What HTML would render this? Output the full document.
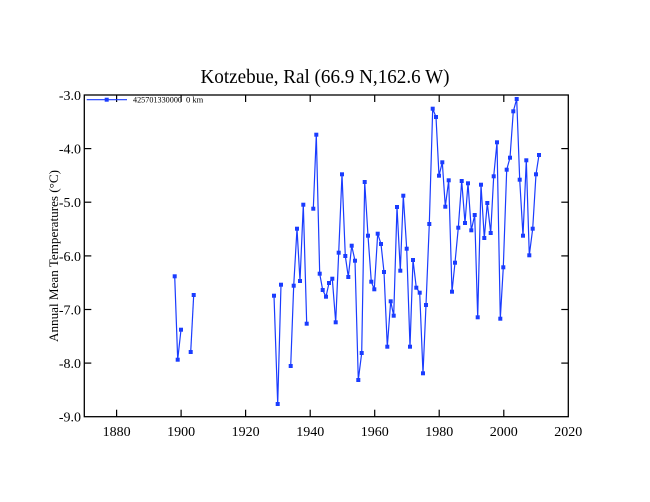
<!DOCTYPE html>
<html><head><meta charset="utf-8"><style>
html,body{margin:0;padding:0;background:#fff;}
svg{display:block;font-family:"Liberation Serif",serif;}
</style></head><body>
<svg width="650" height="502" viewBox="0 0 650 502" xmlns="http://www.w3.org/2000/svg">
<rect width="650" height="502" fill="#fff"/>
<text x="325" y="83" font-size="20" text-anchor="middle" textLength="249" lengthAdjust="spacingAndGlyphs">Kotzebue, Ral (66.9 N,162.6 W)</text>
<rect x="84.3" y="95" width="484" height="321.7" fill="none" stroke="#000" stroke-width="1.3"/>
<g stroke="#000" stroke-width="1.2">
<line x1="116.6" y1="416.7" x2="116.6" y2="409.7"/><line x1="181.1" y1="416.7" x2="181.1" y2="409.7"/><line x1="245.6" y1="416.7" x2="245.6" y2="409.7"/><line x1="310.2" y1="416.7" x2="310.2" y2="409.7"/><line x1="374.7" y1="416.7" x2="374.7" y2="409.7"/><line x1="439.2" y1="416.7" x2="439.2" y2="409.7"/><line x1="503.8" y1="416.7" x2="503.8" y2="409.7"/>
<line x1="116.6" y1="95" x2="116.6" y2="102"/><line x1="181.1" y1="95" x2="181.1" y2="102"/><line x1="245.6" y1="95" x2="245.6" y2="102"/><line x1="310.2" y1="95" x2="310.2" y2="102"/><line x1="374.7" y1="95" x2="374.7" y2="102"/><line x1="439.2" y1="95" x2="439.2" y2="102"/><line x1="503.8" y1="95" x2="503.8" y2="102"/>
<line x1="84.3" y1="148.6" x2="91.3" y2="148.6"/><line x1="84.3" y1="202.2" x2="91.3" y2="202.2"/><line x1="84.3" y1="255.9" x2="91.3" y2="255.9"/><line x1="84.3" y1="309.5" x2="91.3" y2="309.5"/><line x1="84.3" y1="363.1" x2="91.3" y2="363.1"/>
<line x1="568.3" y1="148.6" x2="561.3" y2="148.6"/><line x1="568.3" y1="202.2" x2="561.3" y2="202.2"/><line x1="568.3" y1="255.9" x2="561.3" y2="255.9"/><line x1="568.3" y1="309.5" x2="561.3" y2="309.5"/><line x1="568.3" y1="363.1" x2="561.3" y2="363.1"/>
</g>
<g font-size="14" text-anchor="end">
<text x="81" y="100">-3.0</text><text x="81" y="153.6">-4.0</text><text x="81" y="207.2">-5.0</text><text x="81" y="260.9">-6.0</text><text x="81" y="314.5">-7.0</text><text x="81" y="368.1">-8.0</text><text x="81" y="421.7">-9.0</text>
</g>
<g font-size="14" text-anchor="middle">
<text x="116.6" y="436">1880</text><text x="181.1" y="436">1900</text><text x="245.6" y="436">1920</text><text x="310.2" y="436">1940</text><text x="374.7" y="436">1960</text><text x="439.2" y="436">1980</text><text x="503.8" y="436">2000</text><text x="568.3" y="436">2020</text>
</g>
<text transform="translate(58,256) rotate(-90)" font-size="13" text-anchor="middle" textLength="172" lengthAdjust="spacingAndGlyphs">Annual Mean Temperatures (°C)</text>
<line x1="86.7" y1="99.7" x2="127" y2="99.7" stroke="#1a3cff" stroke-width="1.2"/>
<rect x="104.7" y="97.7" width="4" height="4" fill="#1a3cff"/>
<text x="133" y="102.5" font-size="8.5" textLength="49" lengthAdjust="spacingAndGlyphs">425701330000</text>
<text x="186" y="102.5" font-size="8.5">0 km</text>
<g fill="none" stroke="#1a3cff" stroke-width="1.2">
<polyline points="174.7,276.3 177.7,359.7 181,329.7"/>
<polyline points="190.7,352 193.7,295"/>
<polyline points="274,295.7 277.7,404 281,284.7"/>
<polyline points="290.7,366 293.7,285.7 297,228.7 300,281 303.3,204.7 306.7,323.7"/>
<polyline points="313.3,208.7 316.3,134.7 319.7,273.7 322.7,290 326,296.7 329,283 332.3,278.7 335.7,322.3 338.7,252.7 342,174.3 345.3,256 348.3,277 351.7,245.7 355,260.7 358.3,380 361.7,353 364.7,182 368,235.7 371.3,281.7 374.3,289.3 377.7,233.7 381,244 384,272 387.3,346.7 390.7,301.3 393.7,315.7 397,207 400.3,270.7 403.3,195.7 406.7,248.7 410,346.7 413,260 416.3,287.7 419.7,292.7 423,373.3 426,305 429.3,224 432.7,108.7 436,117 439,175.7 442.3,162.3 445.3,206.7 448.7,180.3 452,291.7 455,262.7 458.3,227.7 461.7,181 465,223 468,183.3 471.3,230.3 474.7,215 477.7,317.3 481,184.7 484.3,238 487.3,203 490.7,233 493.7,176.3 497,142.3 500.3,318.7 503.3,267.3 506.7,169.7 510,157.7 513.3,111.3 516.7,99 519.7,179.7 523,235.7 526.3,160.3 529.3,255.3 532.7,228.7 536,174.3 539,155"/>
</g>
<g fill="#1a3cff" id="m"></g>
<script>
var pts=[];document.querySelectorAll('polyline').forEach(function(p){p.getAttribute('points').trim().split(/\s+/).forEach(function(s){pts.push(s.split(',').map(Number));});});
var g=document.getElementById('m'),ns='http://www.w3.org/2000/svg';
pts.forEach(function(q){var r=document.createElementNS(ns,'rect');r.setAttribute('x',q[0]-2);r.setAttribute('y',q[1]-2);r.setAttribute('width',4);r.setAttribute('height',4);g.appendChild(r);});
</script>
</svg>
</body></html>
